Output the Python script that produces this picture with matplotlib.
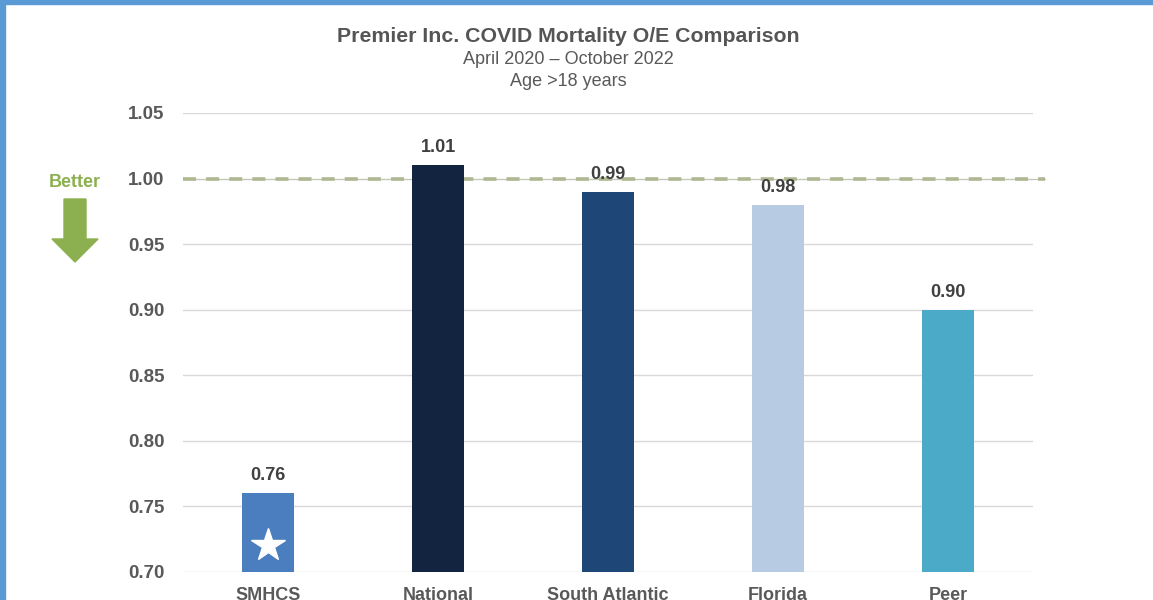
import numpy as np
import matplotlib
matplotlib.use("Agg")
import matplotlib.pyplot as plt
from matplotlib.patches import Rectangle, FancyArrow

## datos del grafico
categorias = ["SMHCS", "National", "South Atlantic", "Florida", "Peer"]
valores = [0.76, 1.01, 0.99, 0.98, 0.90]
colores = ["#4a7ebf", "#12243f", "#1e4677", "#b7cce3", "#4aaac7"]
yticks = [0.70, 0.75, 0.80, 0.85, 0.90, 0.95, 1.00, 1.05]
referencia = 1.00

plt.rcParams['font.family'] = ['Liberation Sans', 'DejaVu Sans']
gris = "#595959"

fig = plt.figure(figsize=(11.53, 6.0), dpi=100)
ax = fig.add_axes([183/1153, 28/600, 850/1153, 459/600])

x = np.arange(len(categorias))
ax.bar(x, [v - 0.70 for v in valores], bottom=0.70, width=0.306, color=colores, zorder=3)

## etiquetas de valores encima de cada barra
for xi, v in zip(x, valores):
    ax.text(xi, v + 0.007, "%.2f" % v, ha="center", va="bottom",
            fontsize=13, fontweight="bold", color="#404040", zorder=4)

## estrella blanca en la barra SMHCS
ax.plot(x[0], 0.7206, marker="*", markersize=25, color="white", zorder=4)

## linea de referencia punteada en 1.00 (linea fina + trazos)
ax.axhline(referencia, xmin=0, xmax=1.014, color="#c4c6b8", lw=0.8,
           zorder=2, clip_on=False)
ax.axhline(referencia, xmin=0, xmax=1.014, color="#adb890", lw=2.6,
           linestyle=(0, (3.6, 2.8)), zorder=2, clip_on=False)

ax.set_xlim(-0.5, 4.5)
ax.set_ylim(0.70, 1.05)
ax.set_yticks(yticks)
ax.set_yticklabels(["%.2f" % t for t in yticks])
ax.set_xticks(x)
ax.set_xticklabels(categorias)
ax.grid(axis="y", color="#d9d9d9", lw=1, zorder=0)
for s in ax.spines.values():
    s.set_visible(False)
ax.tick_params(axis="both", length=0, colors=gris)
ax.tick_params(axis="y", pad=13.5)
ax.tick_params(axis="x", pad=10.5)
for lab in ax.get_yticklabels():
    lab.set_fontweight("bold")
    lab.set_fontsize(13.5)
for lab in ax.get_xticklabels():
    lab.set_fontweight("bold")
    lab.set_fontsize(13)

## titulos
fig.text(568/1153, 1 - 37/600, "Premier Inc. COVID Mortality O/E Comparison",
         ha="center", va="center", fontsize=15.3, fontweight="bold", color="#555555")
fig.text(568/1153, 1 - 60/600, "April 2020 \u2013 October 2022",
         ha="center", va="center", fontsize=13, color=gris)
fig.text(568/1153, 1 - 82/600, "Age >18 years",
         ha="center", va="center", fontsize=13, color=gris)

## texto Better con flecha verde
verde = "#8cb04f"
fig.text(75/1153, 1 - 183/600, "Better", ha="center", va="center",
         fontsize=13, fontweight="bold", color=verde)
fig.add_artist(FancyArrow(75/1153, 1 - 199/600, 0, -63/600, width=22/1153,
                          head_width=46/1153, head_length=23/600,
                          length_includes_head=True, color=verde,
                          transform=fig.transFigure))

## marco azul
azul = "#5b9bd5"
fig.add_artist(Rectangle((0, 1 - 4/600), 1, 4/600, color=azul, transform=fig.transFigure))
fig.add_artist(Rectangle((0, 0), 5/1153, 1, color=azul, transform=fig.transFigure))

fig.savefig("out.png", dpi=100)
